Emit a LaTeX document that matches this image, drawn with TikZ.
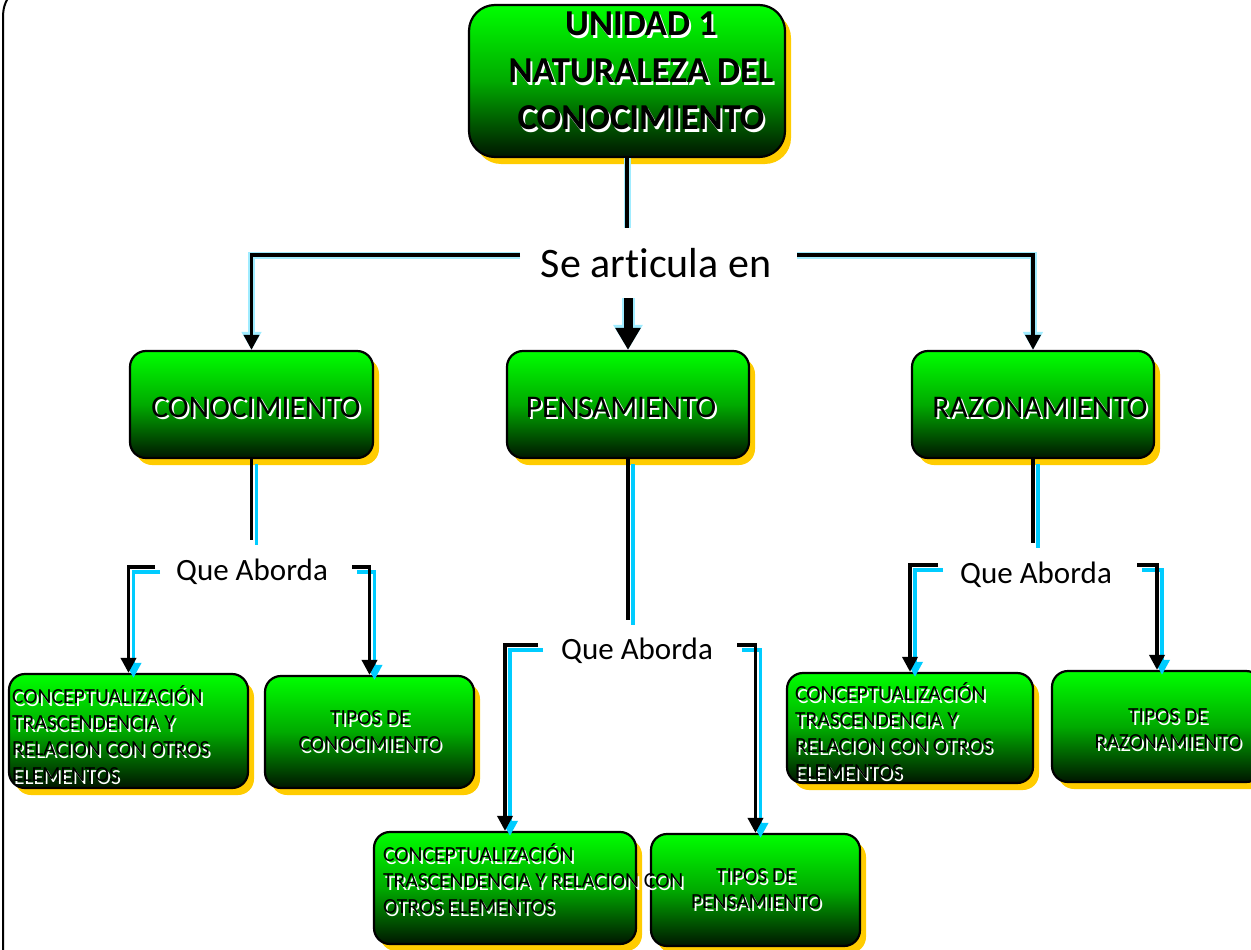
\documentclass[tikz,border=0pt]{standalone}
\usepackage{fontspec}
\setmainfont[Ligatures=NoCommon]{Carlito}
\usetikzlibrary{arrows.meta,shadows}

\definecolor{boxtop}{RGB}{0,255,0}
\definecolor{boxmid}{RGB}{0,170,0}
\definecolor{boxbot}{RGB}{0,22,0}
\definecolor{shadeyellow}{RGB}{255,204,0}
\definecolor{linecyan}{RGB}{0,204,255}
\definecolor{glowcyan}{RGB}{160,236,255}

\tikzset{
  greenbox/.style 2 args={draw=black, line width=2.2pt, rounded corners=16pt,
    top color=boxtop, bottom color=boxbot, middle color=boxmid,
    drop shadow={fill=shadeyellow, opacity=1, shadow xshift=6pt, shadow yshift=-7pt},
    inner sep=0pt, minimum width=#1, minimum height=#2},
  smalltxt/.style={font=\fontsize{21.5}{26}\selectfont, inner sep=0pt, align=left, anchor=west},
  smallc/.style={font=\fontsize{21.5}{26}\selectfont, inner sep=0pt, align=center},
  boxlabel/.style={font=\fontsize{31.5}{38}\selectfont, inner sep=0pt},
  titletxt/.style={font=\bfseries\fontsize{36.5}{47}\selectfont, inner sep=0pt, align=center},
  linklabel/.style={font=\fontsize{42}{50}\selectfont, inner sep=0pt},
  qalabel/.style={font=\fontsize{31}{38}\selectfont, inner sep=0pt},
  link/.style={draw=black, line width=3.6pt, -{Triangle[width=15pt,length=15pt]}},
  linkplain/.style={draw=black, line width=3.6pt},
  linkshade/.style={draw=linecyan, line width=3.6pt, -{Triangle[width=15pt,length=15pt]},
    transform canvas={xshift=5pt, yshift=-5pt}},
  linkshadeplain/.style={draw=linecyan, line width=3.6pt,
    transform canvas={xshift=5pt, yshift=-5pt}},
  glow/.style={draw=glowcyan, line width=7pt, -{Triangle[width=19pt,length=18pt]}},
  glowplain/.style={draw=glowcyan, line width=7pt},
  bigarrow/.style={draw=black, line width=9pt, -{Triangle[width=24pt,length=22pt]}},
  bigglow/.style={draw=glowcyan, line width=13pt, -{Triangle[width=28pt,length=25pt]}},
}

% black text with a white copy set slightly below and to the right
\newcommand\shadowtext[4]{%
  \node[#2, text=white, xshift=2pt, yshift=-2.5pt] (#1-shade) at #3 {#4};
  \node[#2] (#1) at #3 {#4};}

\begin{document}
\begin{tikzpicture}[x=1pt, y=-1pt]
\useasboundingbox (0,0) rectangle (1251,950);

% frame edge on the left
\draw[line width=2pt] (3,952) -- (3,18) .. controls (3,8) and (5,3) .. (8,-2);

% boxes
\node[greenbox={316pt}{152pt}, rounded corners=26pt] (title) at (627,81) {};
\node[greenbox={243pt}{107pt}] (conoc) at (251.5,404.5) {};
\node[greenbox={242pt}{107pt}] (pens) at (628,404.5) {};
\node[greenbox={242pt}{107pt}] (razon) at (1033,404.5) {};
\node[greenbox={239pt}{114pt}] (c1) at (128.5,731) {};
\node[greenbox={209pt}{112pt}] (t1) at (369.5,732) {};
\node[greenbox={262pt}{112pt}] (c2) at (505,888) {};
\node[greenbox={209pt}{112pt}] (t2) at (755.5,890) {};
\node[greenbox={246pt}{110pt}] (c3) at (910,728) {};
\node[greenbox={210pt}{111pt}] (t3) at (1157,726.5) {};

% box texts
\shadowtext{titleT}{titletxt}{(641,71)}{UNIDAD 1\\NATURALEZA DEL\\CONOCIMIENTO}
\shadowtext{conocT}{boxlabel}{(256,407)}{CONOCIMIENTO}
\shadowtext{pensT}{boxlabel}{(621,407)}{PENSAMIENTO}
\shadowtext{razonT}{boxlabel}{(1040,407)}{RAZONAMIENTO}
\shadowtext{c1T}{smalltxt}{(12,734)}{CONCEPTUALIZACIÓN\\TRASCENDENCIA Y\\RELACION CON OTROS\\ELEMENTOS}
\shadowtext{t1T}{smallc}{(370,731)}{TIPOS DE\\CONOCIMIENTO}
\shadowtext{c2T}{smalltxt}{(383,879)}{CONCEPTUALIZACIÓN\\TRASCENDENCIA Y RELACION CON\\OTROS ELEMENTOS}
\shadowtext{t2T}{smallc}{(756,889)}{TIPOS DE\\PENSAMIENTO}
\shadowtext{c3T}{smalltxt}{(795,731)}{CONCEPTUALIZACIÓN\\TRASCENDENCIA Y\\RELACION CON OTROS\\ELEMENTOS}
\shadowtext{t3T}{smallc}{(1168,729)}{TIPOS DE\\RAZONAMIENTO}

% link labels
\node[linklabel] (art) at (656,263) {Se articula en};
\node[qalabel] (qa1) at (252,572) {Que Aborda};
\node[qalabel] (qa2) at (637,651) {Que Aborda};
\node[qalabel] (qa3) at (1036,575) {Que Aborda};

% connector ends next to the labels
\coordinate (artT) at (627,228);
\coordinate (artL) at (520,255);
\coordinate (artR) at (797,255);
\coordinate (artB) at (628,298);
\coordinate (qa1T) at (251.5,540);
\coordinate (qa1L) at (155,567);
\coordinate (qa1R) at (352,567);
\coordinate (qa2T) at (628,620);
\coordinate (qa2L) at (538,645);
\coordinate (qa2R) at (737,645);
\coordinate (qa3T) at (1033,543);
\coordinate (qa3L) at (938,565);
\coordinate (qa3R) at (1137,565);

% upper connectors, with a light glow
\draw[glowplain] (title.south) -- (artT);
\draw[glow] (artL) -| (conoc.north);
\draw[glow] (artR) -| (razon.north);
\draw[bigglow] (artB) -- (pens.north);
\draw[linkplain] (title.south) -- (artT);
\draw[link] (artL) -| (conoc.north);
\draw[link] (artR) -| (razon.north);
\draw[bigarrow] (artB) -- (pens.north);

% lower connectors, with a cyan shadow
\draw[linkshadeplain] (conoc.south) -- (qa1T);
\draw[linkshade] (qa1L) -| (c1.north);
\draw[linkshade] (qa1R) -| (t1.north);
\draw[linkshadeplain] (pens.south) -- (qa2T);
\draw[linkshade] (qa2L) -| (c2.north);
\draw[linkshade] (qa2R) -| (t2.north);
\draw[linkshadeplain] (razon.south) -- (qa3T);
\draw[linkshade] (qa3L) -| (c3.north);
\draw[linkshade] (qa3R) -| (t3.north);

\draw[linkplain] (conoc.south) -- (qa1T);
\draw[link] (qa1L) -| (c1.north);
\draw[link] (qa1R) -| (t1.north);
\draw[linkplain] (pens.south) -- (qa2T);
\draw[link] (qa2L) -| (c2.north);
\draw[link] (qa2R) -| (t2.north);
\draw[linkplain] (razon.south) -- (qa3T);
\draw[link] (qa3L) -| (c3.north);
\draw[link] (qa3R) -| (t3.north);
\end{tikzpicture}
\end{document}
